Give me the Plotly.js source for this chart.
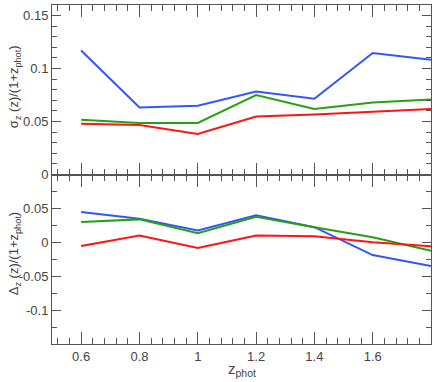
<!DOCTYPE html>
<html>
<head>
<meta charset="utf-8">
<script src="https://cdn.plot.ly/plotly-3.0.1.min.js"></script>
<style>
  html, body { margin: 0; padding: 0; background: #fff; }
  #plot { width: 436px; height: 382px; }
</style>
</head>
<body>
<div id="plot"></div>
<script>
// redshift bins
const zPhot = [0.6, 0.8, 1.0, 1.2, 1.4, 1.6, 1.8];

// top panel: sigma_z / (1+z_phot)
const sigmaBlue  = [0.117, 0.0633, 0.0649, 0.0784, 0.0715, 0.1147, 0.1084];
const sigmaGreen = [0.0517, 0.0486, 0.0486, 0.075, 0.0618, 0.068, 0.0709];
const sigmaRed   = [0.0479, 0.0467, 0.0382, 0.0548, 0.0567, 0.059, 0.0618];

// bottom panel: Delta_z / (1+z_phot)
const deltaBlue  = [0.0446, 0.0348, 0.0174, 0.0397, 0.0223, -0.0188, -0.0351];
const deltaGreen = [0.0298, 0.0338, 0.0134, 0.0378, 0.0223, 0.0074, -0.0124];
const deltaRed   = [-0.0054, 0.01, -0.0084, 0.01, 0.0089, 0.0, -0.006];

const xTicks = [0.6, 0.8, 1, 1.2, 1.4, 1.6];
const xTickText = ['0.6', '0.8', '1', '1.2', '1.4', '1.6'];
const sigmaTicks = [0, 0.05, 0.1, 0.15];
const sigmaTickText = ['0', '0.05', '0.1', '0.15'];
const deltaTicks = [-0.1, -0.05, 0, 0.05];
const deltaTickText = ['-0.1', '-0.05', '0', '0.05'];

const BLUE = 'rgb(51,85,255)';
const GREEN = 'rgb(40,160,20)';
const RED = 'rgb(255,20,20)';
const FRAME = '#555';
const TXT = '#444';
const FONT = "'Liberation Sans', Arial, sans-serif";

function line(x, y, color, xa, ya) {
  return {
    x: x, y: y, type: 'scatter', mode: 'lines',
    xaxis: xa, yaxis: ya,
    line: { color: color, width: 2 },
    hoverinfo: 'skip', showlegend: false
  };
}

const traces = [
  line(zPhot, sigmaBlue, BLUE, 'x2', 'y2'),
  line(zPhot, sigmaGreen, GREEN, 'x2', 'y2'),
  line(zPhot, sigmaRed, RED, 'x2', 'y2'),
  line(zPhot, deltaBlue, BLUE, 'x', 'y'),
  line(zPhot, deltaGreen, GREEN, 'x', 'y'),
  line(zPhot, deltaRed, RED, 'x', 'y')
];

const axisCommon = {
  showline: true, linecolor: FRAME, linewidth: 1, mirror: 'ticks',
  ticks: 'inside', tickcolor: FRAME, tickwidth: 1,
  showgrid: false, zeroline: false,
  tickfont: { family: FONT, size: 13, color: TXT }
};

// titles placed as annotations so both y titles sit at the same distance from the frame
const titleFont = { family: FONT, size: 13, color: TXT };

const layout = {
  width: 436, height: 382,
  margin: { l: 52, r: 5, t: 5, b: 38 },
  paper_bgcolor: '#fff', plot_bgcolor: '#fff',
  font: { family: FONT, color: TXT },
  xaxis: Object.assign({}, axisCommon, {
    anchor: 'y', range: [0.5, 1.8],
    tickvals: xTicks, ticktext: xTickText, ticklen: 12,
    minor: { dtick: 0.04, tick0: 0.6, ticks: 'inside', ticklen: 6, tickcolor: FRAME, showgrid: false }
  }),
  xaxis2: Object.assign({}, axisCommon, {
    anchor: 'y2', matches: 'x', range: [0.5, 1.8],
    tickvals: xTicks, ticklen: 12, showticklabels: false,
    minor: { dtick: 0.04, tick0: 0.6, ticks: 'inside', ticklen: 6, tickcolor: FRAME, showgrid: false }
  }),
  yaxis: Object.assign({}, axisCommon, {
    anchor: 'x', domain: [0, 0.5], range: [-0.15, 0.1],
    tickvals: deltaTicks, ticktext: deltaTickText, ticklen: 9,
    minor: { dtick: 0.025, tick0: 0, ticks: 'inside', ticklen: 5, tickcolor: FRAME, showgrid: false }
  }),
  yaxis2: Object.assign({}, axisCommon, {
    anchor: 'x2', domain: [0.5, 1], range: [0, 0.16],
    tickvals: sigmaTicks, ticktext: sigmaTickText, ticklen: 9,
    minor: { dtick: 0.01, tick0: 0, ticks: 'inside', ticklen: 5, tickcolor: FRAME, showgrid: false }
  }),
  annotations: [
    {
      text: '\u03c3<sub>z</sub> (z)/(1+z<sub>phot</sub>)',
      xref: 'paper', yref: 'paper', x: -0.1, y: 0.758,
      xanchor: 'center', yanchor: 'middle', textangle: -90,
      showarrow: false, font: titleFont
    },
    {
      text: '\u0394<sub>z</sub> (z)/(1+z<sub>phot</sub>)',
      xref: 'paper', yref: 'paper', x: -0.1, y: 0.265,
      xanchor: 'center', yanchor: 'middle', textangle: -90,
      showarrow: false, font: titleFont
    },
    {
      text: 'z<sub>phot</sub>',
      xref: 'paper', yref: 'paper', x: 0.5, y: -0.04,
      xanchor: 'center', yanchor: 'top',
      showarrow: false, font: { family: FONT, size: 15, color: TXT }
    }
  ]
};

Plotly.newPlot('plot', traces, layout, { displayModeBar: false, staticPlot: true });
</script>
</body>
</html>
